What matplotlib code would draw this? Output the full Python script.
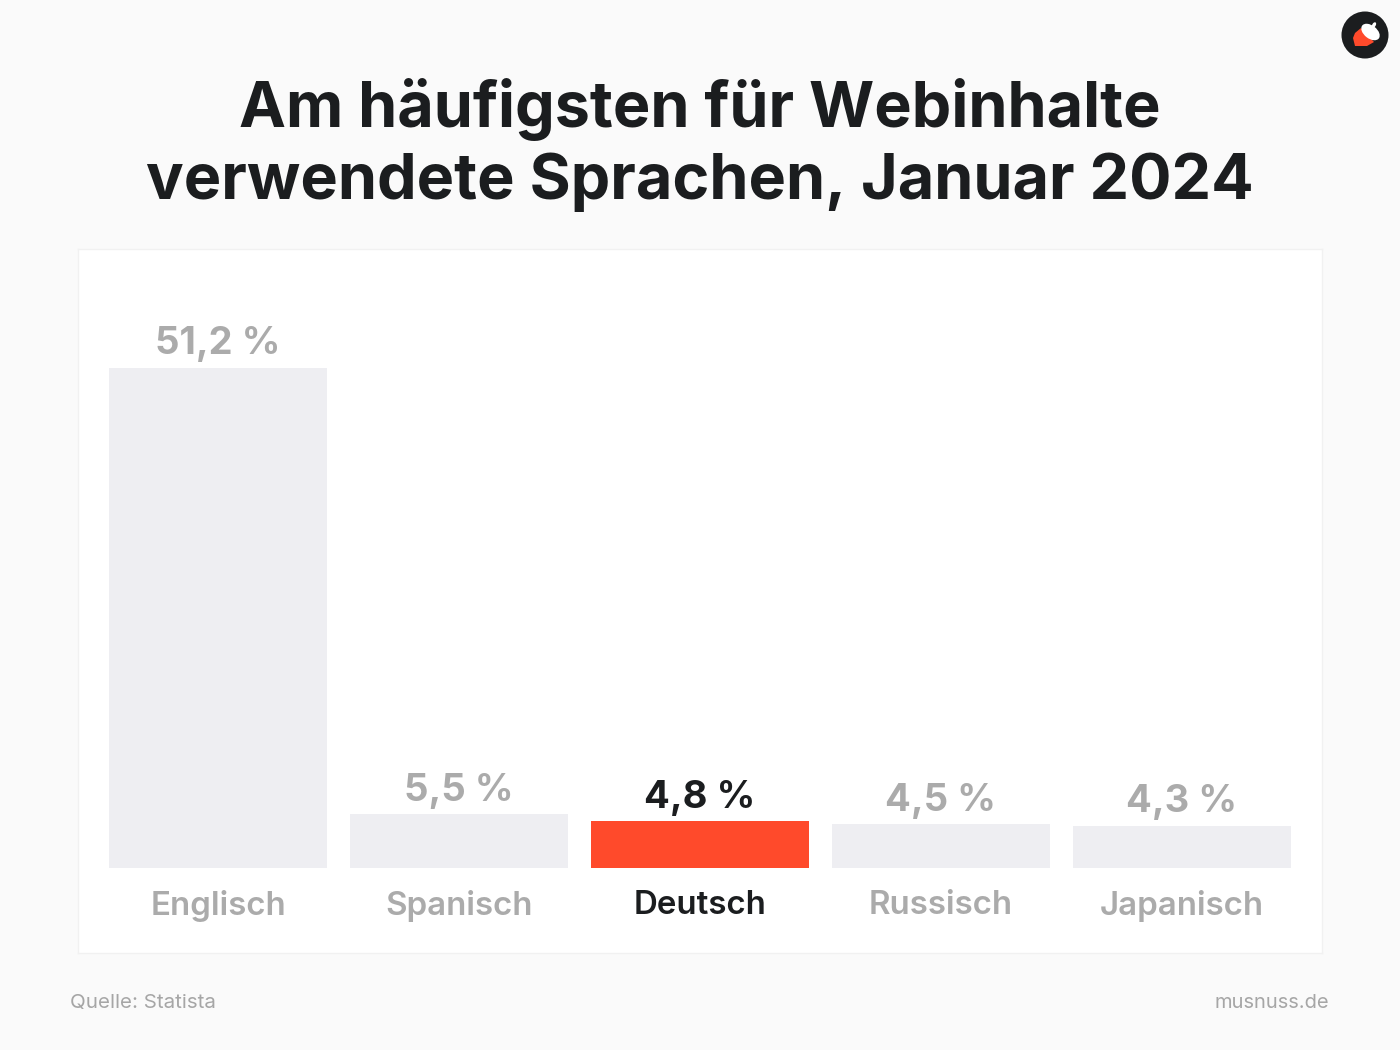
import matplotlib
matplotlib.use('Agg')
import matplotlib.pyplot as plt
from matplotlib.patches import Circle, Ellipse, Polygon

languages = ['Englisch', 'Spanisch', 'Deutsch', 'Russisch', 'Japanisch']
shares = [51.2, 5.5, 4.8, 4.5, 4.3]
value_labels = ['51,2 %', '5,5 %', '4,8 %', '4,5 %', '4,3 %']
highlight = 'Deutsch'

title_lines = ['Am häufigsten für Webinhalte', 'verwendete Sprachen, Januar 2024']
source = 'Quelle: Statista'
brand = 'musnuss.de'

plt.rcParams['font.family'] = ['Inter', 'DejaVu Sans']

W, H = 1400, 1050
fig = plt.figure(figsize=(14, 10.5), dpi=100, facecolor='#fafafa')

#Card axes, placed in pixels
ax = fig.add_axes([78 / W, 1 - 953 / H, (1322 - 78) / W, (953 - 249) / H], facecolor='white')
ax.set_xlim(-0.581, 4.581)
ax.set_ylim(-8.70, 63.38)
ax.set_xticks([])
ax.set_yticks([])
for s in ax.spines.values():
    s.set_color('#f1f1f1')
    s.set_linewidth(1)

x = list(range(len(languages)))
colors = ['#ff4a2b' if l == highlight else '#eeeef2' for l in languages]
ax.bar(x, shares, width=0.905, color=colors, linewidth=0)

for i, l in enumerate(languages):
    c = '#1b1d1f' if l == highlight else '#ababab'
    ax.annotate(value_labels[i], (i, shares[i]), xytext=(0, 4), textcoords='offset points',
                ha='center', va='bottom', fontsize=27.5, fontweight='bold', color=c)
    ax.annotate(l, (i, 0), xytext=(0, -27), textcoords='offset points',
                ha='center', va='center', fontsize=23.8, fontweight='semibold', color=c)

#Title and footer
fig.text(700 / W, 1 - 127 / H, title_lines[0], ha='center', va='baseline', fontsize=45.3,
         fontweight='bold', color='#1b1d1f')
fig.text(700 / W, 1 - 199 / H, title_lines[1], ha='center', va='baseline', fontsize=45.3,
         fontweight='bold', color='#1b1d1f')
fig.text(70 / W, 1 - 1008 / H, source, ha='left', va='baseline', fontsize=14.8, color='#a6a6a6')
fig.text(1329 / W, 1 - 1008 / H, brand, ha='right', va='baseline', fontsize=14.5, color='#a6a6a6')

#Acorn logo in pixel coordinates
logo = fig.add_axes([0, 0, 1, 1], facecolor='none')
logo.set_xlim(0, W)
logo.set_ylim(H, 0)
logo.axis('off')
logo.add_patch(Circle((1365, 35), 23.5, color='#1b1d1f', lw=0))
logo.add_patch(Polygon([(1355, 33), (1361, 28), (1374, 42), (1367, 46), (1355, 46), (1353, 38)],
                       closed=True, color='#ff4a2b', lw=0))
logo.add_patch(Ellipse((1370.5, 32), 21, 13, angle=38, color='white', lw=0))
logo.add_patch(Ellipse((1374, 25), 3.5, 6, angle=30, color='white', lw=0))

fig.savefig('out.png', dpi=100, facecolor=fig.get_facecolor())
